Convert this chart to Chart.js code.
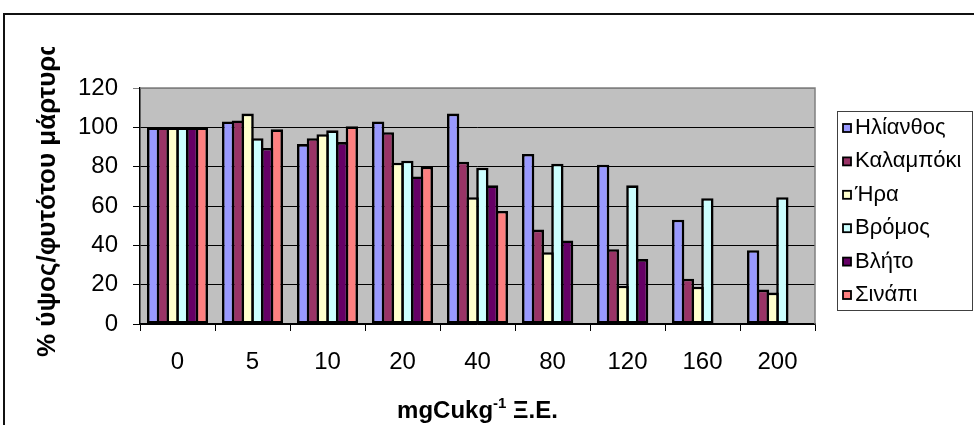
<!DOCTYPE html>
<html>
<head>
<meta charset="utf-8">
<script src="https://cdn.jsdelivr.net/npm/chart.js@4/dist/chart.umd.min.js"></script>
<style>
    html, body { margin: 0; padding: 0; background: #fff; }
    #chart { display: block; }
</style>
</head>
<body>
<canvas id="chart" width="974" height="425"></canvas>
<script>
// Copper dose (mg Cu / kg dry soil)
const doses = ['0', '5', '10', '20', '40', '80', '120', '160', '200'];

// Plant height as % of control, one array per species
const sunflower = [100, 103, 91.5, 103, 107, 86.5, 81, 53, 37.5];
const maize = [100, 103.5, 94.5, 97.5, 82.5, 48, 38, 23, 17.5];
const hera = [100, 107, 96.5, 82, 64.5, 36.5, 19.5, 19, 16];
const brome = [100, 94.5, 98.5, 83, 79.5, 81.5, 70.5, 64, 64.5];
const amaranth = [100, 89.5, 92.5, 75, 70.5, 42.5, 33, null, null];
const mustard = [100, 99, 100.5, 80, 57.5, null, null, null, null];

const seriesNames = ['Ηλίανθος', 'Καλαμπόκι', 'Ήρα', 'Βρόμος', 'Βλήτο', 'Σινάπι'];
const seriesColors = ['#9999FF', '#993366', '#FFFFCC', '#CCFFFF', '#660066', '#FF8080'];
const yTicks = [0, 20, 40, 60, 80, 100, 120];

const FONT = 'Arial, "Liberation Sans", sans-serif';
const BAR_BORDER = 2.6;

const seriesValues = [sunflower, maize, hera, brome, amaranth, mustard];

// bars are a little wider than their slot so neighbouring outlines overlap
// into a single line instead of doubling up
const datasets = seriesValues.map((values, i) => ({
    label: seriesNames[i],
    data: values,
    backgroundColor: seriesColors[i],
    borderColor: '#000',
    borderWidth: BAR_BORDER,
    borderSkipped: false,
    categoryPercentage: 0.779,
    barPercentage: 1.267
}));

// grey plot background, frame, titles and the boxed legend
const decorations = {
    id: 'decorations',
    beforeDraw(chart) {
        const { ctx, chartArea: a } = chart;
        ctx.save();
        ctx.fillStyle = '#fff';
        ctx.fillRect(0, 0, chart.width, chart.height);
        ctx.fillStyle = '#C0C0C0';
        ctx.fillRect(a.left, a.top, a.right - a.left, a.bottom - a.top);
        ctx.restore();
    },
    afterDraw(chart) {
        const { ctx, chartArea: a } = chart;
        ctx.save();

        // plot area border (top and right)
        ctx.strokeStyle = '#808080';
        ctx.lineWidth = 1.5;
        ctx.beginPath();
        ctx.moveTo(a.left, a.top);
        ctx.lineTo(a.right, a.top);
        ctx.lineTo(a.right, a.bottom);
        ctx.stroke();

        // outer chart frame
        ctx.strokeStyle = '#111';
        ctx.lineWidth = 2;
        ctx.beginPath();
        ctx.moveTo(4, chart.height + 2);
        ctx.lineTo(4, 14);
        ctx.lineTo(chart.width + 2, 14);
        ctx.stroke();

        // y axis title, cut off at the top
        ctx.save();
        ctx.beginPath();
        ctx.rect(0, 47, 120, chart.height);
        ctx.clip();
        ctx.translate(55, 357);
        ctx.rotate(-Math.PI / 2);
        ctx.fillStyle = '#000';
        ctx.font = 'bold 26px ' + FONT;
        ctx.textAlign = 'left';
        ctx.textBaseline = 'alphabetic';
        ctx.fillText('% ύψος/φυτότου μάρτυρα', 0, 0);
        ctx.restore();

        // x axis title with superscript
        ctx.fillStyle = '#000';
        ctx.textBaseline = 'alphabetic';
        const big = 'bold 24px ' + FONT;
        const small = 'bold 15px ' + FONT;
        const parts = [['mgCukg', big, 0], ['-1', small, -10], [' Ξ.Ε.', big, 0]];
        let total = 0;
        parts.forEach(([t, f]) => { ctx.font = f; total += ctx.measureText(t).width; });
        let x = (a.left + a.right) / 2 - total / 2;
        const baseY = 418;
        parts.forEach(([t, f, dy]) => {
            ctx.font = f;
            ctx.fillText(t, x, baseY + dy);
            x += ctx.measureText(t).width;
        });

        // legend
        const lx = 837, ly = 111, lw = 135, lh = 199;
        ctx.fillStyle = '#fff';
        ctx.fillRect(lx, ly, lw, lh);
        ctx.strokeStyle = '#404040';
        ctx.lineWidth = 1;
        ctx.strokeRect(lx + 0.5, ly + 0.5, lw, lh);
        ctx.font = '22px ' + FONT;
        ctx.textBaseline = 'middle';
        chart.data.datasets.forEach((ds, i) => {
            const cy = 128 + i * 33.4;
            ctx.fillStyle = ds.backgroundColor;
            ctx.fillRect(843, cy - 4, 8, 8);
            ctx.strokeStyle = '#000';
            ctx.lineWidth = 1.8;
            ctx.strokeRect(843, cy - 4, 8, 8);
            ctx.fillStyle = '#000';
            ctx.fillText(ds.label, 855, cy);
        });

        ctx.restore();
    }
};

new Chart(document.getElementById('chart'), {
    type: 'bar',
    data: { labels: doses, datasets: datasets },
    plugins: [decorations],
    options: {
        responsive: false,
        animation: false,
        devicePixelRatio: 1,
        layout: { padding: { top: 88, right: 159, left: 0, bottom: 0 } },
        plugins: {
            legend: { display: false },
            tooltip: { enabled: false }
        },
        scales: {
            x: {
                grid: {
                    offset: true,
                    drawOnChartArea: false,
                    drawTicks: true,
                    tickLength: 7,
                    color: '#000'
                },
                border: { display: true, color: '#000', width: 1.5 },
                ticks: {
                    color: '#000',
                    font: { family: FONT, size: 24 },
                    padding: 17,
                    maxRotation: 0
                },
                afterFit(scale) { scale.height = 101; }
            },
            y: {
                min: 0,
                max: 120,
                afterBuildTicks(scale) {
                    scale.ticks = yTicks.map(v => ({ value: v }));
                },
                grid: {
                    color: ctx => (ctx.tick && ctx.tick.value === 120 ? '#808080' : '#000'),
                    lineWidth: 1,
                    drawTicks: true,
                    tickLength: 7
                },
                border: { display: true, color: '#000', width: 1.5 },
                ticks: {
                    color: '#000',
                    font: { family: FONT, size: 24 },
                    padding: 15
                },
                afterFit(scale) { scale.width = 140; }
            }
        }
    }
});
</script>
</body>
</html>
